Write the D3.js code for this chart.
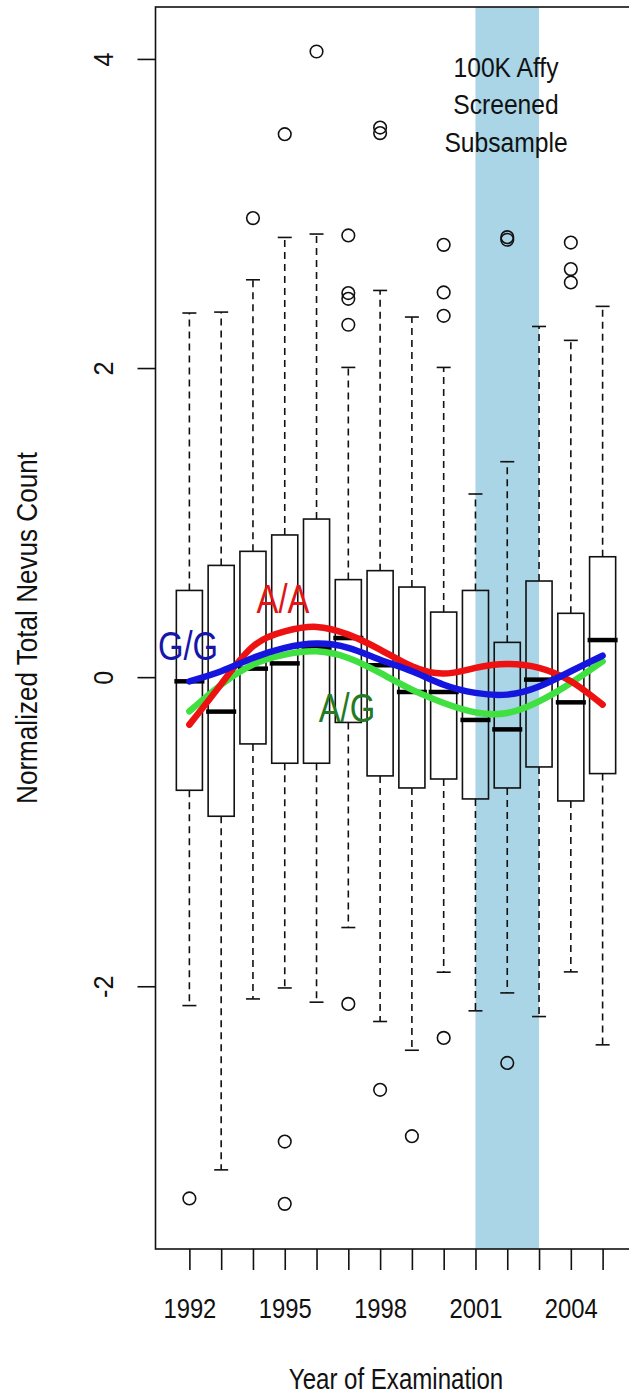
<!DOCTYPE html>
<html>
<head>
<meta charset="utf-8">
<script src="https://cdn.jsdelivr.net/npm/d3@7/dist/d3.min.js"></script>
<style>
body { margin: 0; background: #ffffff; }
svg { display: block; font-family: "Liberation Sans", Arial, sans-serif; }
</style>
</head>
<body>
<svg id="chart" width="629" height="1399"></svg>
<script>
// one box per year of examination
const years = [1992, 1993, 1994, 1995, 1996, 1997, 1998, 1999, 2000, 2001, 2002, 2003, 2004, 2005];
const yearLabels = [1992, 1995, 1998, 2001, 2004];
const yTicks = [-2, 0, 2, 4];

const q1 = [-0.732, -0.900, -0.432, -0.557, -0.557, -0.293, -0.639, -0.717, -0.659, -0.788, -0.717, -0.581, -0.801, -0.624];
const medians = [-0.027, -0.223, 0.055, 0.089, 0.19, 0.253, 0.077, -0.096, -0.096, -0.277, -0.338, -0.016, -0.163, 0.240];
const q3 = [0.561, 0.723, 0.814, 0.920, 1.023, 0.631, 0.689, 0.583, 0.421, 0.561, 0.225, 0.622, 0.413, 0.779];
const whiskerLow = [-2.125, -3.188, -2.082, -2.011, -2.103, -1.62, -2.228, -2.414, -1.909, -2.159, -2.043, -2.196, -1.907, -2.379];
const whiskerHigh = [2.356, 2.362, 2.571, 2.845, 2.867, 2.004, 2.502, 2.330, 2.004, 1.185, 1.394, 2.269, 2.179, 2.399];
const outliers = [
    [-3.373],
    [],
    [2.970],
    [3.513, -3.005, -3.408],
    [4.048],
    [2.858, 2.485, 2.448, 2.280, -2.114],
    [3.556, 3.520, -2.670],
    [-2.970],
    [2.797, 2.489, 2.338, -2.334],
    [],
    [2.847, 2.830, -2.496],
    [],
    [2.812, 2.640, 2.554],
    []
];

// smoothed trend per genotype
const trendAA = [-0.307, -0.045, 0.199, 0.296, 0.325, 0.275, 0.178, 0.07, 0.023, 0.06, 0.085, 0.06, -0.027, -0.178];
const trendGG = [-0.027, 0.038, 0.124, 0.189, 0.217, 0.189, 0.113, 0.038, -0.049, -0.102, -0.113, -0.06, 0.038, 0.139];
const trendAG = [-0.221, -0.049, 0.081, 0.146, 0.167, 0.124, 0.027, -0.081, -0.167, -0.228, -0.232, -0.157, -0.038, 0.102];

const bandYears = [2001, 2003];
const bandText = ["100K Affy", "Screened", "Subsample"];

const svg = d3.select("#chart");
const plotLeft = 155.5, plotRight = 636.5, plotTop = 7, plotBottom = 1249;

const x = d3.scaleLinear().domain([1990.934, 2006.066]).range([plotLeft, plotRight]);
const y = d3.scaleLinear().domain([-3.70, 4.336]).range([plotBottom, plotTop]);
const step = x(1993) - x(1992);
const boxW = step * 0.82;

// shaded subsample band
svg.append("rect")
    .attr("x", x(bandYears[0]))
    .attr("y", plotTop)
    .attr("width", x(bandYears[1]) - x(bandYears[0]))
    .attr("height", plotBottom - plotTop)
    .attr("fill", "#a9d5e6");

svg.selectAll(".band-text").data(bandText).enter().append("text")
    .attr("transform", function(d, i) { return "translate(506," + (76.7 + i * 37.5) + ") scale(0.88,1)"; })
    .attr("text-anchor", "middle")
    .attr("font-size", 28)
    .attr("fill", "#111")
    .text(function(d) { return d; });

// boxes
const groups = svg.selectAll(".box").data(years).enter().append("g").attr("class", "box");

groups.append("line")
    .attr("x1", function(d) { return x(d); })
    .attr("x2", function(d) { return x(d); })
    .attr("y1", function(d, i) { return y(q3[i]); })
    .attr("y2", function(d, i) { return y(whiskerHigh[i]); })
    .attr("stroke", "#111").attr("stroke-width", 1.6).attr("stroke-dasharray", "7,5");
groups.append("line")
    .attr("x1", function(d) { return x(d); })
    .attr("x2", function(d) { return x(d); })
    .attr("y1", function(d, i) { return y(q1[i]); })
    .attr("y2", function(d, i) { return y(whiskerLow[i]); })
    .attr("stroke", "#111").attr("stroke-width", 1.6).attr("stroke-dasharray", "7,5");
groups.append("line")
    .attr("x1", function(d) { return x(d) - 7; })
    .attr("x2", function(d) { return x(d) + 7; })
    .attr("y1", function(d, i) { return y(whiskerHigh[i]); })
    .attr("y2", function(d, i) { return y(whiskerHigh[i]); })
    .attr("stroke", "#111").attr("stroke-width", 1.6);
groups.append("line")
    .attr("x1", function(d) { return x(d) - 7; })
    .attr("x2", function(d) { return x(d) + 7; })
    .attr("y1", function(d, i) { return y(whiskerLow[i]); })
    .attr("y2", function(d, i) { return y(whiskerLow[i]); })
    .attr("stroke", "#111").attr("stroke-width", 1.6);
groups.append("rect")
    .attr("x", function(d) { return x(d) - boxW / 2; })
    .attr("y", function(d, i) { return y(q3[i]); })
    .attr("width", boxW)
    .attr("height", function(d, i) { return y(q1[i]) - y(q3[i]); })
    .attr("fill", "none").attr("stroke", "#111").attr("stroke-width", 1.6);
groups.append("line")
    .attr("x1", function(d) { return x(d) - boxW / 2 - 2; })
    .attr("x2", function(d) { return x(d) + boxW / 2 + 2; })
    .attr("y1", function(d, i) { return y(medians[i]); })
    .attr("y2", function(d, i) { return y(medians[i]); })
    .attr("stroke", "#000").attr("stroke-width", 4.5);
groups.each(function(d, i) {
    d3.select(this).selectAll("circle").data(outliers[i]).enter().append("circle")
        .attr("cx", x(d))
        .attr("cy", function(v) { return y(v); })
        .attr("r", 6.3)
        .attr("fill", "none").attr("stroke", "#111").attr("stroke-width", 1.6);
});

// trend lines
const line = d3.line()
    .x(function(d, i) { return x(years[i]); })
    .y(function(d) { return y(d); })
    .curve(d3.curveNatural);
const trends = [
    {"values": trendAG, "color": "#3fe03f"},
    {"values": trendAA, "color": "#ee1111"},
    {"values": trendGG, "color": "#1515e0"}
];
trends.forEach(function(t) {
    svg.append("path")
        .attr("d", line(t.values))
        .attr("fill", "none")
        .attr("stroke", t.color)
        .attr("stroke-width", 6.5)
        .attr("stroke-linecap", "round");
});

const trendLabels = [
    {"text": "A/A", "x": 283, "y": 613, "color": "#e01515"},
    {"text": "G/G", "x": 188, "y": 660, "color": "#1616a8"},
    {"text": "A/G", "x": 347, "y": 722, "color": "#237a23"}
];
svg.selectAll(".trend-label").data(trendLabels).enter().append("text")
    .attr("transform", function(d) { return "translate(" + d.x + "," + d.y + ") scale(0.8,1)"; })
    .attr("text-anchor", "middle")
    .attr("font-size", 41)
    .attr("fill", function(d) { return d.color; })
    .text(function(d) { return d.text; });

// frame
svg.append("rect")
    .attr("x", plotLeft).attr("y", plotTop)
    .attr("width", plotRight - plotLeft).attr("height", plotBottom - plotTop)
    .attr("fill", "none").attr("stroke", "#111").attr("stroke-width", 1.6);

// axes
const yAxis = svg.append("g")
    .attr("transform", "translate(" + plotLeft + ",0)")
    .call(d3.axisLeft(y).tickValues(yTicks).tickSize(18).tickFormat(function(d) { return d < 0 ? "-" + Math.abs(d) : d; }));
yAxis.select(".domain").remove();
yAxis.selectAll(".tick line").attr("stroke", "#111").attr("stroke-width", 1.6);
yAxis.selectAll(".tick text")
    .attr("x", null).attr("dy", null)
    .attr("transform", "translate(-42.5,0) rotate(-90) scale(0.9,1)")
    .attr("text-anchor", "middle")
    .attr("font-size", 28)
    .attr("font-family", "Liberation Sans, Arial, sans-serif")
    .attr("fill", "#111");

const xAxis = svg.append("g")
    .attr("transform", "translate(0," + plotBottom + ")")
    .call(d3.axisBottom(x).tickValues(years).tickSize(21).tickFormat(function(d) {
        return yearLabels.indexOf(d) >= 0 ? d : "";
    }));
xAxis.select(".domain").remove();
xAxis.selectAll(".tick line").attr("stroke", "#111").attr("stroke-width", 1.6);
xAxis.selectAll(".tick text")
    .attr("y", null).attr("dy", null)
    .attr("transform", "translate(0,69) scale(0.85,1)")
    .attr("font-size", 28)
    .attr("font-family", "Liberation Sans, Arial, sans-serif")
    .attr("fill", "#111");

svg.append("text")
    .attr("transform", "translate(396,1389) scale(0.83,1)")
    .attr("text-anchor", "middle")
    .attr("font-size", 29)
    .attr("fill", "#111")
    .text("Year of Examination");

svg.append("text")
    .attr("transform", "translate(37,628) rotate(-90) scale(0.87,1)")
    .attr("text-anchor", "middle")
    .attr("font-size", 30)
    .attr("fill", "#111")
    .text("Normalized Total Nevus Count");
</script>
</body>
</html>
